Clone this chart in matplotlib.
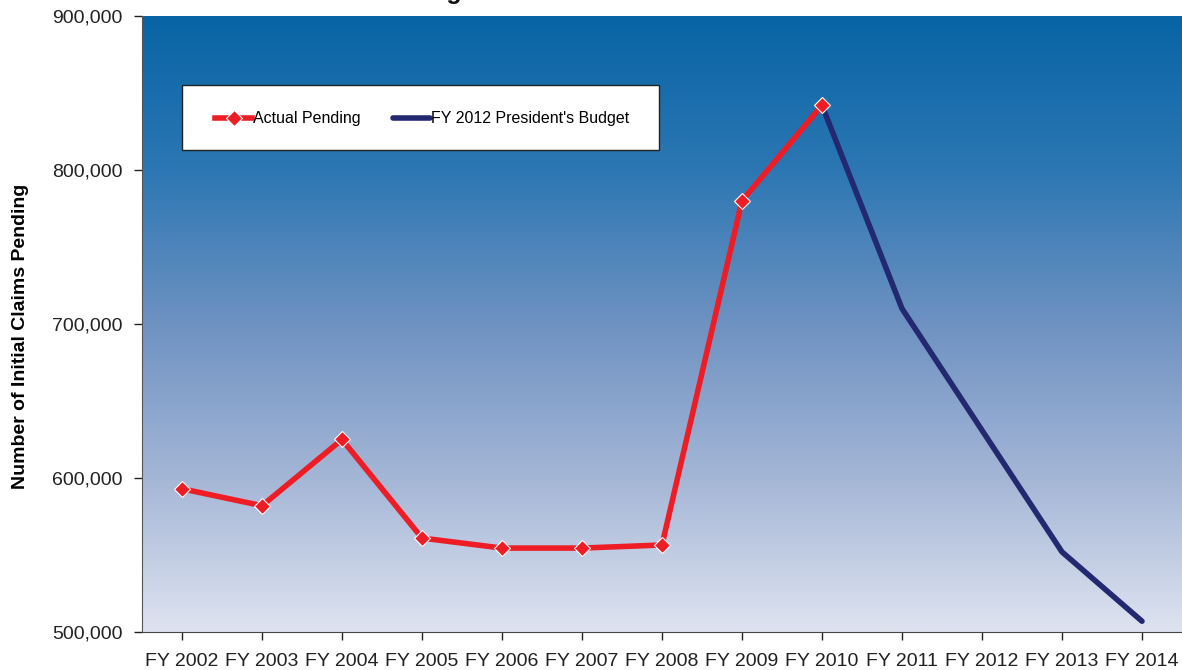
import numpy as np
import matplotlib.pyplot as plt
from matplotlib.colors import LinearSegmentedColormap
from matplotlib.patches import Rectangle
from matplotlib.ticker import FuncFormatter

plt.rcParams['font.family'] = ['Liberation Sans', 'DejaVu Sans']

years = ['FY 2002', 'FY 2003', 'FY 2004', 'FY 2005', 'FY 2006', 'FY 2007', 'FY 2008',
         'FY 2009', 'FY 2010', 'FY 2011', 'FY 2012', 'FY 2013', 'FY 2014']
actual_pending = [593000, 582000, 625000, 561000, 554500, 554500, 556500, 780000, 842000]
budget_pending = [842000, 710000, 631000, 552000, 507000]

W, H = 1182, 670
fig = plt.figure(figsize=(W / 100, H / 100), dpi=100)
ax = fig.add_axes([142 / W, 38 / H, 1040 / W, 616 / H])

xs = np.arange(len(years))
x_actual = xs[:len(actual_pending)]
x_budget = xs[len(actual_pending) - 1:]

# gradient background
grad = LinearSegmentedColormap.from_list('bg', ['#DEE3F0', '#A4B6D6', '#6E92C2', '#2C77B3', '#0864A5'])
ax.imshow(np.linspace(0, 1, 256).reshape(-1, 1), aspect='auto', cmap=grad,
          extent=(-0.5, len(years) - 0.5, 500000, 900000), origin='lower', zorder=0)

ax.plot(x_budget, budget_pending, color='#232970', lw=4, solid_capstyle='round',
        label="FY 2012 President's Budget", zorder=2)
ax.plot(x_actual, actual_pending, color='#EE1C25', lw=4, marker='D', markersize=8,
        markeredgecolor='white', markeredgewidth=0.8, label='Actual Pending', zorder=3)

ax.set_xlim(-0.5, len(years) - 0.5)
ax.set_ylim(500000, 900000)
ax.set_xticks(xs)
ax.set_xticklabels(years)
ax.set_yticks([500000, 600000, 700000, 800000, 900000])
ax.yaxis.set_major_formatter(FuncFormatter(lambda v, p: f'{int(v):,}'))
ax.tick_params(axis='both', labelsize=14, colors='#222222', length=6, width=1, direction='out')
ax.tick_params(axis='x', pad=9)
ax.tick_params(axis='y', pad=8)
for s in ['top', 'right']:
    ax.spines[s].set_visible(False)
ax.spines['left'].set_color('#555555')
ax.spines['bottom'].set_color('#444444')
ax.set_ylabel('Number of Initial Claims Pending', fontsize=14, fontweight='bold')
ax.yaxis.set_label_coords(-0.109, 0.48)

# legend box drawn separately so the padding can be wider than tall
ax.add_patch(Rectangle(((182 - 142) / 1040, (632 - 150) / 616), 477 / 1040, 65 / 616,
                       transform=ax.transAxes, facecolor='white', edgecolor='#222222',
                       lw=1, zorder=4))
h, l = ax.get_legend_handles_labels()
leg = ax.legend(h[::-1], l[::-1], loc='upper left', bbox_to_anchor=((192 - 142) / 1040, (632 - 88) / 616),
                ncol=2, fontsize=11.5, frameon=False, handlelength=2.3, handletextpad=0.1,
                columnspacing=2.0, borderpad=1.45, borderaxespad=0)
leg.set_zorder(5)

# title clipped by the top edge
fig.text(462 / W, 1 + 1 / H, 'Pending', ha='right', va='baseline',
         fontsize=18, fontweight='bold', color='#111111')

fig.savefig('out.png', dpi=100)
